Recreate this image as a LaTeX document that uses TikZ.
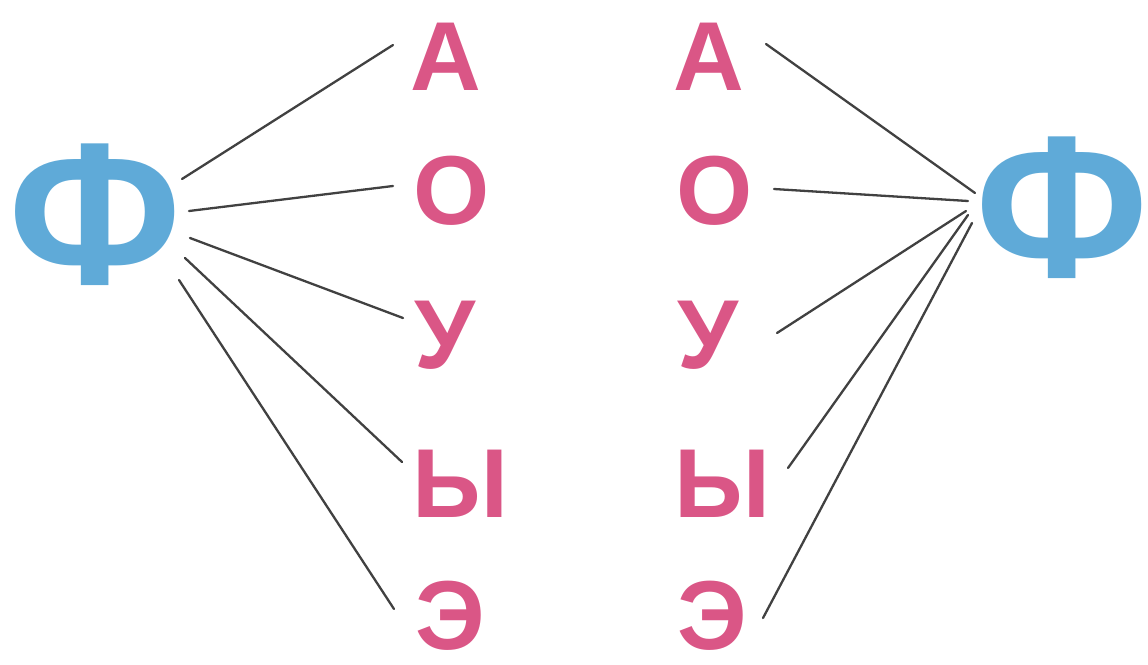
\documentclass[tikz,border=0pt]{standalone}
\usepackage{fontspec}
\setmainfont{Liberation Sans}
\definecolor{vowel}{RGB}{218,86,134}
\definecolor{cons}{RGB}{95,170,216}
\definecolor{wire}{RGB}{65,65,65}
\tikzset{
  vow/.style={text=vowel, font=\bfseries\fontsize{98}{98}\selectfont, inner sep=0pt, anchor=base},
  con/.style={text=cons, font=\bfseries\fontsize{203}{203}\selectfont, inner sep=0pt, anchor=center},
  link/.style={draw=wire, line width=2.3pt, line cap=round}
}
\begin{document}
\begin{tikzpicture}[x=1pt,y=-1pt]
\useasboundingbox (0,0) rectangle (1148,664);
\node[con] (fl) at (95,215) {Ф};
\node[con] (fr) at (1062,208) {Ф};
\node[vow] (la) at (446,90) {А};
\node[vow] (lo) at (452,224) {О};
\node[vow] (lu) at (445,368) {У};
\node[vow] (ly) at (460,517) {Ы};
\node[vow] (le) at (450,649) {Э};
\node[vow] (ra) at (709,90) {А};
\node[vow] (ro) at (715,224) {О};
\node[vow] (ru) at (708,368) {У};
\node[vow] (ry) at (722,517) {Ы};
\node[vow] (re) at (712,649) {Э};
% left fan
\draw[link] ([shift={(87,-36)}]fl.center) -- ([shift={(-53,-45)}]la.base);
\draw[link] ([shift={(94,-4)}]fl.center) -- ([shift={(-59,-38)}]lo.base);
\draw[link] ([shift={(95,23)}]fl.center) -- ([shift={(-42,-50)}]lu.base);
\draw[link] ([shift={(90,43)}]fl.center) -- ([shift={(-58,-55)}]ly.base);
\draw[link] ([shift={(84,65)}]fl.center) -- ([shift={(-56,-40)}]le.base);
% right fan
\draw[link] ([shift={(-87,-15)}]fr.center) -- ([shift={(57,-46)}]ra.base);
\draw[link] ([shift={(-94,-7)}]fr.center) -- ([shift={(59,-35)}]ro.base);
\draw[link] ([shift={(-96,3)}]fr.center) -- ([shift={(69,-35)}]ru.base);
\draw[link] ([shift={(-94,7)}]fr.center) -- ([shift={(66,-49)}]ry.base);
\draw[link] ([shift={(-90,15)}]fr.center) -- ([shift={(51,-31)}]re.base);
\end{tikzpicture}
\end{document}
